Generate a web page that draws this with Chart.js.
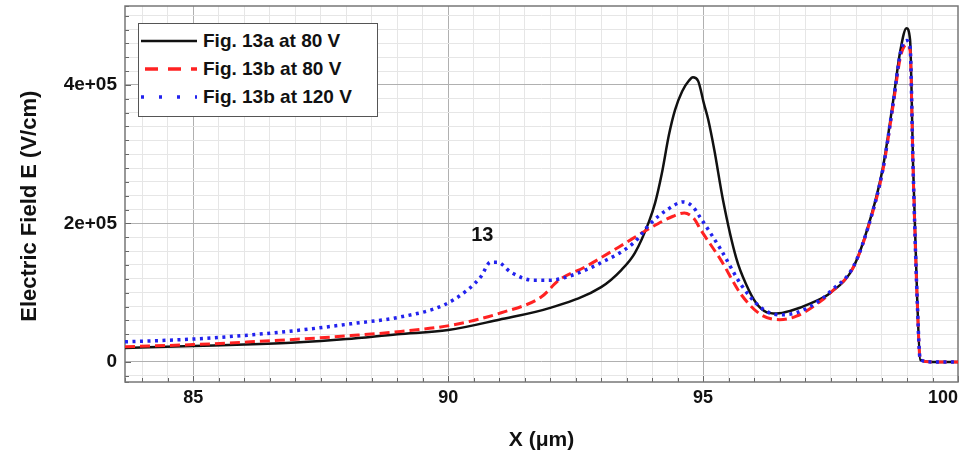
<!DOCTYPE html>
<html>
<head>
<meta charset="utf-8">
<script src="https://cdn.jsdelivr.net/npm/chart.js@4.4.0/dist/chart.umd.min.js"></script>
<style>
body { margin: 0; background: #fff; }
#wrap { position: relative; width: 959px; height: 468px; }
#legend { position: absolute; left: 138px; top: 23px; width: 238px; height: 89px; padding-top: 3px;
  border: 1.5px solid #555; background: #fff; font: bold 19px "Liberation Sans", Arial, sans-serif; color: #111; }
.row { display: flex; align-items: center; height: 28px; margin-left: 2px; }
.row svg { margin-right: 6px; }
</style>
</head>
<body>
<div id="wrap">
  <canvas id="field" width="959" height="468"></canvas>
  <div id="legend"></div>
</div>
<script>
// series: X in um, E in V/cm
var seriesLabels = ['Fig. 13a at 80 V', 'Fig. 13b at 80 V', 'Fig. 13b at 120 V'];

var xBlack = [83.66, 85, 86, 87, 88, 89, 90, 91, 92, 93, 93.4, 93.66, 93.94, 94.06, 94.19, 94.33, 94.45, 94.59, 94.72, 94.8,
  94.9, 95.02, 95.1, 95.22, 95.39, 95.65, 95.85, 96.04, 96.24, 96.44, 96.72, 97.12, 97.5, 97.95, 98.29, 98.53, 98.73,
  98.87, 98.99, 99.06, 99.12, 99.2, 99.26, 99.5, 100];
var yBlack = [20e3, 23e3, 25e3, 28e3, 33e3, 40e3, 46e3, 61e3, 78e3, 108e3, 133e3, 157e3, 203e3, 230e3, 272e3, 328e3, 364e3, 391e3, 406e3, 411e3,
  406e3, 372e3, 350e3, 306e3, 234e3, 150e3, 111e3, 85e3, 72e3, 70e3, 74e3, 85e3, 100e3, 137e3, 209e3, 282e3, 378e3,
  450e3, 482e3, 465e3, 282e3, 90e3, 3e3, 0, 0];

var xRed = [83.66, 85, 86.12, 87.1, 88.09, 89.07, 90.06, 91.04, 91.83, 92.17, 92.68, 93.35, 94, 94.4, 94.63, 94.82, 94.96,
  95.35, 95.75, 96.14, 96.5, 96.83, 97.31, 97.5, 97.95, 98.29, 98.53, 98.73, 98.87, 98.99, 99.06, 99.12, 99.2, 99.26, 99.5, 100];
var yRed = [22e3, 25e3, 29e3, 33e3, 38e3, 44e3, 53e3, 71e3, 94e3, 118e3, 137e3, 166e3, 195e3, 210e3, 215e3, 207e3, 190e3,
  147e3, 97e3, 68e3, 61e3, 66e3, 88e3, 100e3, 137e3, 207e3, 278e3, 372e3, 440e3, 458e3, 450e3, 275e3, 88e3, 3e3, 0, 0];

var xBlue = [83.66, 85, 86.12, 87.1, 88.09, 89.07, 89.91, 90.38, 90.64, 90.83, 90.97, 91.22, 91.67, 92, 92.34, 92.99, 93.64,
  93.98, 94.3, 94.61, 94.8, 94.94, 95.35, 95.75, 96.14, 96.5, 96.83, 97.31, 97.5, 97.95, 98.29, 98.53, 98.73, 98.87,
  98.99, 99.06, 99.12, 99.2, 99.26, 99.5, 100];
var yBlue = [29e3, 33e3, 39e3, 46e3, 55e3, 65e3, 82e3, 104e3, 123e3, 144e3, 144e3, 130e3, 118e3, 118e3, 123e3, 143e3, 172e3,
  201e3, 220e3, 231e3, 224e3, 209e3, 162e3, 111e3, 78e3, 68e3, 71e3, 90e3, 102e3, 138e3, 208e3, 280e3, 375e3, 446e3,
  464e3, 455e3, 278e3, 89e3, 3e3, 0, 0];

var noteX = [90.67];
var noteY = [183e3];
var noteText = ['13'];

var xMin = 83.66, xMax = 100, xStep = 0.5, xMajor = 5;
var yMin = -29e3, yMax = 514e3, yStep = 2e4, yMajor = 2e5;

var colors = ['#111111', '#ff2222', '#2222ee'];
var widths = [2.5, 3, 3.5];
var dashes = [[], [10, 5], [3, 4.5]];
var legendDash = ['', '13 10', '3 15'];

function pts(xs, ys) {
  return xs.map(function(x, i) { return {x: x, y: ys[i]}; });
}
function isMajor(v, m) {
  return Math.abs(v / m - Math.round(v / m)) < 1e-6;
}
function stepTicks(scale, step) {
  var t = [{value: scale.min}];
  for (var v = Math.ceil(scale.min / step - 1e-9) * step; v <= scale.max + 1e-9; v += step) {
    if (v - scale.min > 1e-6) t.push({value: Math.round(v * 1000) / 1000});
  }
  if (scale.max - t[t.length - 1].value > 1e-6) t.push({value: scale.max});
  scale.ticks = t;
}

// frame, inner tick marks and the "13" note
var extras = {
  id: 'extras',
  beforeDatasetsDraw: function(chart) {
    var c = chart.ctx, a = chart.chartArea;
    var xs = chart.scales.x, ys = chart.scales.y;
    c.save();
    c.strokeStyle = '#666';
    c.lineWidth = 1;
    xs.ticks.forEach(function(t) {
      var px = Math.round(xs.getPixelForValue(t.value)) + 0.5;
      var len = isMajor(t.value, xMajor) ? 6 : 4;
      c.beginPath(); c.moveTo(px, a.bottom); c.lineTo(px, a.bottom - len); c.stroke();
    });
    ys.ticks.forEach(function(t) {
      var py = Math.round(ys.getPixelForValue(t.value)) + 0.5;
      var len = isMajor(t.value, yMajor) ? 6 : 4;
      c.beginPath(); c.moveTo(a.left, py); c.lineTo(a.left + len, py); c.stroke();
    });
    c.strokeStyle = '#777';
    c.lineWidth = 1.5;
    c.strokeRect(a.left, a.top, a.right - a.left, a.bottom - a.top);
    c.restore();
  },
  afterDatasetsDraw: function(chart) {
    var c = chart.ctx;
    c.save();
    c.font = 'bold 20px "Liberation Sans", Arial, sans-serif';
    c.fillStyle = '#111';
    c.textAlign = 'center';
    c.textBaseline = 'middle';
    for (var i = 0; i < noteText.length; i++) {
      c.fillText(noteText[i], chart.scales.x.getPixelForValue(noteX[i]), chart.scales.y.getPixelForValue(noteY[i]));
    }
    c.restore();
  }
};

Chart.defaults.font.family = '"Liberation Sans", Arial, sans-serif';
Chart.defaults.color = '#111';

var xs = [xBlack, xRed, xBlue], yv = [yBlack, yRed, yBlue];
var sets = seriesLabels.map(function(lab, i) {
  return {
    label: lab,
    data: pts(xs[i], yv[i]),
    showLine: true,
    borderColor: colors[i],
    borderWidth: widths[i],
    borderDash: dashes[i],
    pointRadius: 0,
    order: 3 - i
  };
});

var ctx = document.getElementById('field').getContext('2d');
var myChart = new Chart(ctx, {
  type: 'scatter',
  data: { datasets: sets },
  plugins: [extras],
  options: {
    responsive: false,
    animation: false,
    layout: { padding: { top: 6, right: 1, left: 0, bottom: 0 } },
    elements: { line: { cubicInterpolationMode: 'monotone' } },
    plugins: { legend: { display: false }, tooltip: { enabled: false } },
    scales: {
      x: {
        type: 'linear', min: xMin, max: xMax,
        afterBuildTicks: function(s) { stepTicks(s, xStep); },
        afterFit: function(s) { s.height = 86; s.paddingLeft = 0; s.paddingRight = 0; },
        border: { display: false },
        grid: {
          drawTicks: false,
          color: function(c) {
            var v = c.tick.value;
            if (v <= xMin + 1e-6 || v >= xMax - 1e-6) return 'rgba(0,0,0,0)';
            return isMajor(v, xMajor) ? '#b0b0b0' : '#e6e6e6';
          }
        },
        ticks: {
          autoSkip: false, minRotation: 0, maxRotation: 0, align: 'inner', padding: 5,
          font: { size: 18, weight: 'bold' },
          callback: function(v) { return isMajor(v, xMajor) ? String(Math.round(v)) : ''; }
        },
        title: { display: true, text: 'X (\u03bcm)', font: { size: 21, weight: 'bold' }, padding: { top: 0, bottom: 15 } }
      },
      y: {
        min: yMin, max: yMax,
        afterBuildTicks: function(s) { stepTicks(s, yStep); },
        afterFit: function(s) { s.width = 125; s.paddingTop = 0; s.paddingBottom = 0; },
        border: { display: false },
        grid: {
          drawTicks: false,
          color: function(c) {
            var v = c.tick.value;
            if (v <= yMin + 1 || v >= yMax - 1) return 'rgba(0,0,0,0)';
            return isMajor(v, yMajor) ? '#b0b0b0' : '#e6e6e6';
          }
        },
        ticks: {
          autoSkip: false, padding: 8,
          font: { size: 19, weight: 'bold' },
          callback: function(v) {
            if (!isMajor(v, yMajor)) return '';
            return v === 0 ? '0' : v.toExponential(0).replace(/e\+(\d)$/, 'e+0$1');
          }
        },
        title: { display: true, text: 'Electric Field E (V/cm)    ', font: { size: 22, weight: 'bold' }, padding: { top: 17, bottom: 0 } }
      }
    }
  }
});

// legend box drawn from the same labels and styles
var leg = document.getElementById('legend');
seriesLabels.forEach(function(lab, i) {
  var row = document.createElement('div');
  row.className = 'row';
  row.innerHTML = '<svg width="56" height="8"><line x1="0" y1="4" x2="56" y2="4" stroke="' + colors[i] +
    '" stroke-width="' + (i === 0 ? 2.5 : 3.5) + '" stroke-dasharray="' + legendDash[i] + '"' +
    (i === 1 ? ' stroke-dashoffset="-4"' : '') + '/></svg><span>' + lab + '</span>';
  leg.appendChild(row);
});
</script>
</body>
</html>
